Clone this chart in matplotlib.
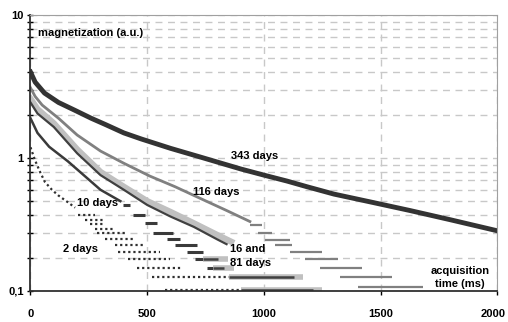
import matplotlib
matplotlib.use("Agg")
import matplotlib.pyplot as plt
import matplotlib.transforms as mtransforms
from matplotlib.ticker import FixedLocator, NullFormatter

plt.rcParams['font.family'] = ['Liberation Sans', 'DejaVu Sans']
plt.rcParams['font.weight'] = 'bold'

# ---- data (time in ms, magnetization a.u.) ----
# 343 days
t343 = [0, 20, 60, 120, 190, 260, 320, 400, 475, 600, 725, 900, 1000, 1100, 1185,
        1300, 1465, 1625, 1800, 2000]
m343 = [4.0, 3.4, 2.85, 2.45, 2.16, 1.9, 1.72, 1.5, 1.36, 1.17, 1.02, 0.84, 0.76,
        0.69, 0.63, 0.56, 0.49, 0.43, 0.37, 0.31]

# 116 days
t116 = [0, 20, 50, 120, 200, 300, 400, 510, 620, 730, 840, 940]
m116 = [3.1, 2.7, 2.35, 1.9, 1.45, 1.12, 0.92, 0.75, 0.63, 0.52, 0.43, 0.36]
# quantized tail (row start, row end, level)
r116_a = [940, 975, 1005, 1047, 1111, 1175, 1240, 1325, 1403]
r116_b = [990, 1035, 1111, 1120, 1248, 1317, 1420, 1548, 1680]
r116_m = [0.343, 0.30, 0.267, 0.246, 0.22, 0.196, 0.17, 0.147, 0.125]

# 16 days (light) and 81 days (dark)
t16 = [0, 30, 100, 200, 300, 400, 500, 600, 700, 800, 860]
m16 = [2.6, 2.2, 1.75, 1.15, 0.8, 0.63, 0.5, 0.42, 0.35, 0.29, 0.26]
t81 = [0, 30, 100, 200, 300, 400, 500, 600, 700, 800, 840]
m81 = [2.45, 2.05, 1.65, 1.08, 0.76, 0.6, 0.47, 0.39, 0.33, 0.27, 0.25]
r1681_a = [740, 780, 850, 900]
r1681_b = [845, 870, 1167, 1250]
r1681_m = [0.196, 0.17, 0.147, 0.12]

# 10 days
t10 = [0, 30, 80, 160, 300, 385]
m10 = [1.9, 1.5, 1.2, 0.95, 0.6, 0.5]
r10_a = [397, 439, 490, 525, 585, 619, 670, 704, 756]
r10_b = [427, 490, 542, 610, 640, 713, 739, 820, 842]
r10_m = [0.47, 0.40, 0.35, 0.30, 0.27, 0.246, 0.22, 0.196, 0.17]

# 2 days
t2 = [0, 19, 41, 62, 92, 118, 161, 191]
m2 = [1.19, 0.97, 0.8, 0.68, 0.6, 0.55, 0.49, 0.45]
r2_a = [204, 233, 255, 276, 285, 319, 362, 375, 418, 456, 520, 576]
r2_b = [276, 319, 319, 362, 405, 448, 490, 555, 597, 653, 940, 983]
r2_m = [0.40, 0.37, 0.345, 0.32, 0.30, 0.27, 0.246, 0.22, 0.196, 0.17, 0.147, 0.12]

xtick = [0, 500, 1000, 1500, 2000]
ytick = [0.118, 1, 10]
ytick_lab = ['0,1', '1', '10']

fig = plt.figure(figsize=(5.08, 3.22), dpi=100)
ax = fig.add_axes([0.060, 0.097, 0.919, 0.856])

dots = (0, (1, 1.3))
ax.plot(t2, m2, color='#303030', lw=1.6, ls=dots)
ax.hlines(r2_m, r2_a, r2_b, color='#303030', lw=1.6, ls=dots)

ax.plot(t10, m10, color='#3a3a3a', lw=1.8)
ax.hlines(r10_m, r10_a, r10_b, color='#3a3a3a', lw=2.2)

ax.plot(t16, m16, color='#c0c0c0', lw=4.5)
ax.hlines(r1681_m, r1681_a, r1681_b, color='#c0c0c0', lw=4)
ax.plot(t81, m81, color='#404040', lw=1.6)
ax.hlines(r1681_m, r1681_a, [b - 40 for b in r1681_b], color='#404040', lw=1.8)

ax.plot(t116, m116, color='#808080', lw=2)
ax.hlines(r116_m, r116_a, r116_b, color='#808080', lw=1.6)

ax.plot(t343, m343, color='#333333', lw=3.5)

ax.set_yscale('log')
ax.set_xlim(0, 2000)
ax.set_ylim(0.118, 10)

ax.set_xticks(xtick)
ax.set_xticklabels([str(x) for x in xtick], fontsize=8, fontweight='bold')
ax.yaxis.set_major_locator(FixedLocator(ytick))
ax.set_yticklabels(ytick_lab, fontsize=8, fontweight='bold')
minor = [k * d for d in (0.1, 1) for k in range(2, 10)]
ax.yaxis.set_minor_locator(FixedLocator(minor))
ax.yaxis.set_minor_formatter(NullFormatter())
ax.tick_params(axis='x', direction='out', length=3, pad=10, width=1)
ax.tick_params(axis='y', which='major', direction='inout', length=4, pad=3, width=1)
ax.tick_params(axis='y', which='minor', direction='inout', length=4, width=1)

# last label sits against the right edge, as in the original
last = ax.xaxis.get_major_ticks()[-1].label1
last.set_transform(last.get_transform() +
                   mtransforms.ScaledTranslation(-4 / 100, 0, fig.dpi_scale_trans))

ax.grid(True, which='both', axis='y', color='#c8c8c8', ls=(0, (5, 4)), lw=1)
ax.grid(True, which='major', axis='x', color='#c8c8c8', ls=(0, (5, 4)), lw=1)
ax.set_axisbelow(True)
for s in ('top', 'right'):
    ax.spines[s].set_color('#a0a0a0')
for s in ('left', 'bottom'):
    ax.spines[s].set_color('#303030')
    ax.spines[s].set_linewidth(1.3)

kw = dict(fontsize=8, fontweight='bold', va='center')
ax.text(32, 7.5, 'magnetization (a.u.)', **kw)
ax.text(859, 1.03, '343 days', **kw)
ax.text(696, 0.58, '116 days', **kw)
ax.text(198, 0.485, '10 days', **kw)
ax.text(139, 0.231, '2 days', **kw)
ax.text(854, 0.231, '16 and', **kw)
ax.text(854, 0.184, '81 days', **kw)
ax.text(1839, 0.147, 'acquisition\ntime (ms)', ha='center', linespacing=1.35,
        fontsize=8, fontweight='bold', va='center')

fig.savefig('out.png', dpi=100)
